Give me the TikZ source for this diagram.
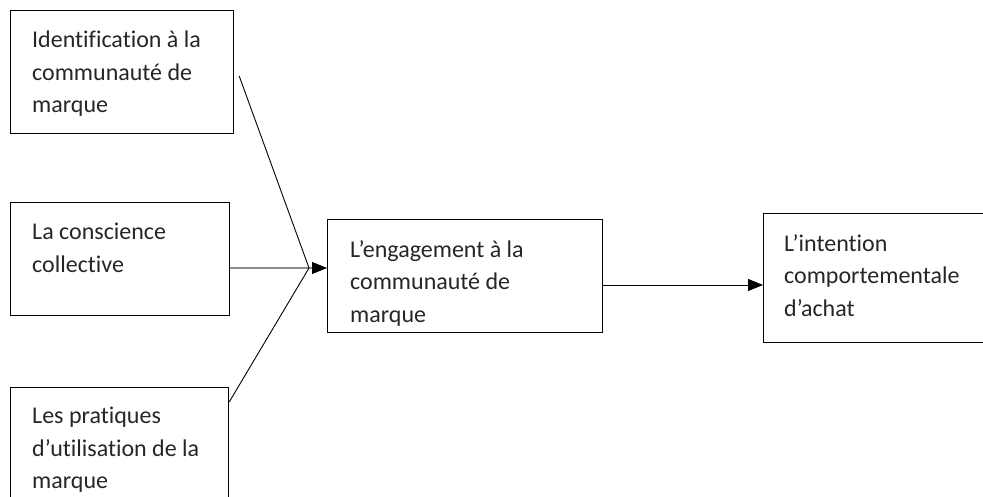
\documentclass[tikz,border=0pt]{standalone}
\usepackage{fontspec}
\setmainfont{Carlito}[Ligatures=NoCommon]
\usetikzlibrary{positioning,calc,arrows.meta}

\begin{document}
\begin{tikzpicture}[x=1pt, y=-1pt,
    box/.style={draw, rectangle, line width=1.2pt, anchor=north west, inner sep=0pt},
    boxtext/.style={anchor=north west, align=left, inner sep=0pt, text=black!85, font=\fontsize{24}{32.5}\selectfont},
    link/.style={line width=0.9pt},
    feed/.style={line width=2.4pt, draw=black!45},
    tip/.style={-{Triangle[length=15pt, width=12pt]}}
]
    \useasboundingbox (0,0) rectangle (983,497);

    % Left boxes
    \node [box, minimum width=223pt, minimum height=123pt] (ident) at (10,10) {};
    \node [boxtext] at ([xshift=22pt, yshift=-21pt]ident.north west) {Identification à la\\communauté de\\marque};

    \node [box, minimum width=219pt, minimum height=113pt] (consc) at (10,202) {};
    \node [boxtext] at ([xshift=22pt, yshift=-21pt]consc.north west) {La conscience\\collective};

    \node [box, minimum width=218pt, minimum height=125pt] (prat) at (10,387) {};
    \node [boxtext] at ([xshift=22pt, yshift=-20pt]prat.north west) {Les pratiques\\d’utilisation de la\\marque};

    % Middle and right boxes
    \node [box, minimum width=275pt, minimum height=113pt] (engag) at (327,219) {};
    \node [boxtext] at ([xshift=23pt, yshift=-21pt]engag.north west) {L’engagement à la\\communauté de\\marque};

    \node [box, minimum width=230pt, minimum height=129pt] (intent) at (763,213) {};
    \node [boxtext] at ([xshift=21pt, yshift=-21pt]intent.north west) {L’intention\\comportementale\\d’achat};

    % Connectors
    \coordinate (join) at (309,268);
    \draw [feed] ([yshift=-66pt]consc.north east) -- ([yshift=-49pt, xshift=-10pt]engag.north west);
    \draw [link] ([xshift=5pt, yshift=-66pt]ident.north east) -- (join);
    \draw [link] ([yshift=-15pt]prat.north east) -- (join);
    \draw [link, tip] ([yshift=-49pt]engag.north west) ++(-14,0) -- ([yshift=-49pt]engag.north west);
    \draw [link, tip] ([yshift=-66pt]engag.north east) -- ([yshift=-72pt]intent.north west);
\end{tikzpicture}
\end{document}
